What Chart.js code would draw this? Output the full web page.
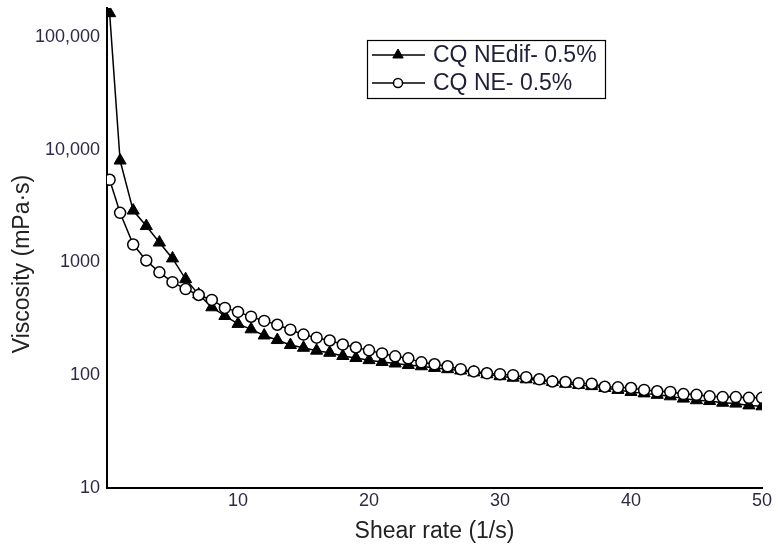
<!DOCTYPE html>
<html>
<head>
<meta charset="utf-8">
<script src="https://cdn.jsdelivr.net/npm/chart.js@4.4.0/dist/chart.umd.min.js"></script>
<style>
  html, body { margin: 0; padding: 0; background: #fff; }
  #wrap { width: 778px; height: 549px; }
</style>
</head>
<body>
<div id="wrap"><canvas id="c" width="778" height="549"></canvas></div>
<script>
// shear rate (1/s)
const shearRate = [0.2, 1, 2, 3, 4, 5, 6, 7, 8, 9, 10, 11, 12, 13, 14, 15, 16, 17, 18, 19, 20,
    21, 22, 23, 24, 25, 26, 27, 28, 29, 30, 31, 32, 33, 34, 35, 36, 37, 38, 39, 40,
    41, 42, 43, 44, 45, 46, 47, 48, 49, 50];

// viscosity (mPa·s)
const neDif = [162000, 8000, 2880, 2100, 1500, 1085, 710, 520, 400, 335, 285,
    255, 225, 205, 185, 175, 165, 158, 148, 142, 136,
    131, 127, 123, 120, 116, 113, 110, 106, 102, 98,
    95, 92, 90, 87, 84, 82, 80, 77, 74, 71,
    69, 67, 65, 62, 60, 59, 57, 56, 54, 53];
const ne = [5400, 2750, 1440, 1040, 817, 668, 580, 514, 465, 395, 364,
    330, 303, 280, 253, 229, 215, 203, 187, 176, 166,
    156, 147, 141, 130, 125, 120, 113, 108, 104, 102,
    100, 96, 92, 88, 87, 85, 84, 79, 78, 77,
    74, 72, 71, 68, 67, 65, 64, 64, 63, 63];

const seriesNames = ['CQ NEdif- 0.5%', 'CQ NE- 0.5%'];
const xTicks = [10, 20, 30, 40, 50];
const yTicks = [10, 100, 1000, 10000, 100000];
const yTickLabels = ['10', '100', '1000', '10,000', '100,000'];

const tickColor = '#2d2a48';
const font = 'Liberation Sans, Arial, sans-serif';

const toXY = arr => arr.map((v, i) => ({ x: shearRate[i], y: v }));

// legend box drawn inside the plot, like the original
const boxLegend = {
    id: 'boxLegend',
    afterDraw(chart) {
        const ctx = chart.ctx;
        ctx.save();
        ctx.strokeStyle = '#000';
        ctx.lineWidth = 1.2;
        ctx.strokeRect(367.5, 40.5, 238, 58);
        const rows = [55, 83];
        [0, 1].forEach((di, k) => {
            const ds = chart.data.datasets[di];
            const y = rows[k];
            ctx.beginPath();
            ctx.moveTo(372, y);
            ctx.lineTo(425, y);
            ctx.lineWidth = 1.5;
            ctx.strokeStyle = '#000';
            ctx.stroke();
            ctx.fillStyle = ds.pointBackgroundColor;
            ctx.strokeStyle = '#000';
            ctx.lineWidth = ds.pointBorderWidth;
            Chart.helpers.drawPoint(ctx, {
                pointStyle: ds.pointStyle,
                radius: ds.pointRadius - 1,
                rotation: 0,
                borderWidth: ds.pointBorderWidth
            }, 398, y);
            ctx.fillStyle = '#1f1f3a';
            ctx.font = '23px ' + font;
            ctx.textBaseline = 'middle';
            ctx.textAlign = 'left';
            ctx.fillText(ds.label, 433, y + 1);
        });
        ctx.restore();
    }
};

new Chart(document.getElementById('c'), {
    type: 'line',
    data: {
        datasets: [
            {
                label: seriesNames[0],
                data: toXY(neDif),
                borderColor: '#000',
                borderWidth: 1.5,
                pointStyle: 'triangle',
                pointRadius: 7,
                pointBackgroundColor: '#000',
                pointBorderColor: '#000',
                pointBorderWidth: 1,
                order: 1
            },
            {
                label: seriesNames[1],
                data: toXY(ne),
                borderColor: '#000',
                borderWidth: 1.5,
                pointStyle: 'circle',
                pointRadius: 5.5,
                pointBackgroundColor: '#fff',
                pointBorderColor: '#000',
                pointBorderWidth: 1.5,
                order: 0
            }
        ]
    },
    options: {
        responsive: false,
        devicePixelRatio: 1,
        animation: false,
        layout: { padding: { top: 3, right: 16, left: 0, bottom: 0 } },
        plugins: {
            legend: { display: false },
            tooltip: { enabled: false }
        },
        scales: {
            x: {
                type: 'linear',
                min: 0,
                max: 50,
                afterBuildTicks: s => { s.ticks = xTicks.map(v => ({ value: v })); },
                afterFit: s => { s.height = 61; },
                grid: { display: false, drawTicks: false },
                border: { color: '#000', width: 2 },
                ticks: {
                    color: tickColor,
                    padding: 2,
                    maxRotation: 0,
                    font: { family: font, size: 18 }
                },
                title: {
                    display: true,
                    text: 'Shear rate (1/s)',
                    color: '#222',
                    font: { family: font, size: 23 },
                    padding: { top: 0, bottom: 4 }
                }
            },
            y: {
                type: 'logarithmic',
                min: 10,
                max: 180000,
                afterBuildTicks: s => { s.ticks = yTicks.map(v => ({ value: v })); },
                afterFit: s => {
                    s.width = 107;
                    s.paddingTop = 0;
                    s.paddingBottom = 0;
                },
                grid: { display: false, drawTicks: false },
                border: { color: '#000', width: 2 },
                ticks: {
                    color: tickColor,
                    padding: 7,
                    font: { family: font, size: 18 },
                    callback: (v, i) => yTickLabels[i]
                },
                title: {
                    display: true,
                    text: 'Viscosity (mPa·s)\u00a0\u00a0\u00a0\u00a0\u00a0',
                    color: '#222',
                    font: { family: font, size: 23 },
                    padding: { top: 9, bottom: 0 }
                }
            }
        }
    },
    plugins: [boxLegend]
});
</script>
</body>
</html>
